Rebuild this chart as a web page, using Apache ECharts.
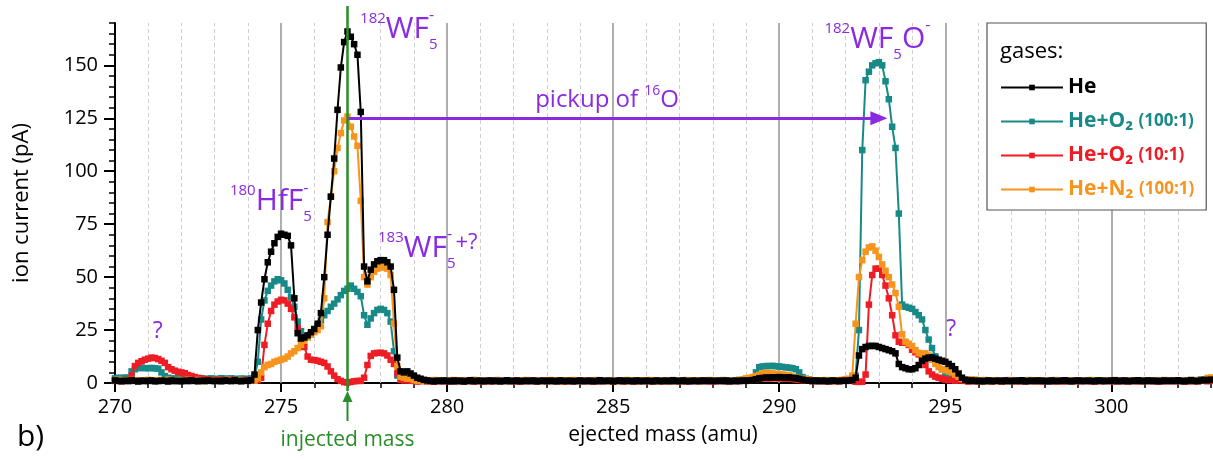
<!DOCTYPE html>
<html><head><meta charset="utf-8">
<script src="https://cdn.jsdelivr.net/npm/echarts@6/dist/echarts.min.js"></script>
<style>html,body{margin:0;padding:0;background:#fff}#c{width:1213px;height:461px}</style>
</head><body><div id="c"></div>
<script>
// ---------------- data ----------------
const MASS_START = 270, MASS_STEP = 0.1;   // ejected mass grid (amu)
const SERIES_NAMES = ['He', 'He+O₂ (100:1)', 'He+O₂ (10:1)', 'He+N₂ (100:1)'];
const X_TICKS = [270, 275, 280, 285, 290, 295, 300];
const Y_TICKS = [0, 25, 50, 75, 100, 125, 150];
const MAJOR_GRID = [275, 280, 285, 290, 295, 300];
const MINOR_GRID = [271,272,273,274,276,277,278,279,281,282,283,284,286,287,288,289,291,292,293,294,296,297,298,299,301,302];
const INJECTED_MASS = 277;
const PICKUP_FROM = 277, PICKUP_TO = 293, PICKUP_LEVEL = 125;

// ion current (pA), one row per amu (x.0 ... x.9)
const He = [
1.2,1.0,0.8,1.1,0.9,1.3,1.0,0.7,1.1,0.9,
1.0,1.2,0.8,0.9,1.1,1.0,0.7,1.2,0.9,1.0,
0.8,1.1,0.9,1.3,1.0,0.8,1.1,0.9,1.2,1.0,
0.9,1.1,0.8,1.2,1.0,0.9,1.3,1.0,0.8,1.1,
1.0,1.3,4.0,25,38,49,57,62,66,69,
70.5,70,69.5,65,40,23.5,21,21.5,22.5,24,
25.5,28,33,50,70,88,106,129,149,161,
166,163.5,160,155,128,55,48,53.5,56,57.5,
58,58,57,55,44,12,5.5,5,5.5,4.5,
3.5,2.5,2,1.5,1.2,1.0,0.8,1.1,0.9,1.2,
1.0,0.8,1.2,0.9,1.1,0.7,1.0,1.3,0.9,1.0,
1.1,0.8,1.0,1.2,0.9,1.1,0.8,1.0,1.3,0.9,
1.0,1.2,0.8,1.0,1.1,0.9,1.2,0.8,1.0,1.1,
0.9,1.1,1.0,0.8,1.2,1.0,0.9,1.1,0.8,1.0,
1.2,0.9,1.0,1.1,0.8,1.0,1.3,0.9,1.0,1.1,
0.8,1.0,1.2,0.9,1.1,1.0,0.8,1.2,1.0,0.9,
1.1,1.0,0.8,1.2,0.9,1.0,1.1,0.9,1.3,1.0,
0.9,1.2,1.0,0.8,1.1,1.0,0.9,1.2,1.0,1.1,
1.0,0.9,1.1,1.0,1.2,0.8,1.0,1.1,0.9,1.2,
1.0,1.2,1.4,1.8,2.2,2.4,2.6,2.5,2.7,2.6,
2.8,2.6,2.5,2.7,2.4,2.3,2.0,1.6,1.3,1.1,
1.0,1.2,0.9,1.1,1.0,0.8,1.2,1.0,0.9,1.1,
1.0,1.2,1.4,2.5,13,16,17,17.5,17.5,17.5,
17,16.5,16,15.5,15,14,9,7.5,7,6.5,
6.5,7,8.5,10.5,11.5,12,12,11.5,11,10.5,
10,9,8,6.5,4.5,2.5,1.5,1.0,1.2,0.9,
1.1,0.8,1.0,1.2,0.9,1.0,1.1,0.8,1.2,1.0,
0.9,1.1,1.0,1.3,0.8,1.0,1.1,0.9,1.2,1.0,
1.0,0.8,1.2,1.0,0.9,1.1,1.3,1.0,0.8,1.1,
1.2,1.0,0.9,1.1,1.0,0.8,1.2,1.1,0.9,1.0,
1.1,1.3,0.9,1.0,1.2,0.8,1.0,1.1,1.3,1.0,
0.9,1.2,1.0,1.1,0.8,1.0,1.2,0.9,1.1,1.0,
1.3,1.0,0.8,1.1,1.4,1.0,0.9,1.2,1.5,1.3,
1.6];

const HeO2_100 = [
2.2,2.5,2.3,2.6,2.4,5.5,6.5,7.0,7.2,7.0,
7.0,7.1,6.9,6.8,5.0,3.3,2.5,2.2,2.0,2.3,
2.1,1.9,2.2,2.0,1.8,2.1,2.3,1.9,2.0,2.2,
1.8,2.0,2.3,2.1,1.9,2.2,2.0,1.8,2.1,2.0,
1.9,2.2,2.8,10,30,39,43.5,46,48,49,
48.5,47,44,40.5,36,29,24.5,22,22,23,
25,27,29.5,32,34,36,37.5,39.5,41.5,43.5,
44.5,46,44.5,43,41,32,27.5,30.5,33,34.5,
35,34.5,33,29,15,3.5,2.2,2.0,2.3,1.9,
1.6,1.3,1.1,1.2,0.9,1.1,0.8,1.2,1.0,0.9,
1.1,0.8,1.2,0.9,1.0,1.3,0.9,1.1,0.8,1.0,
1.2,0.9,1.1,0.8,1.3,1.0,0.9,1.2,0.8,1.1,
0.9,1.2,1.0,0.8,1.1,1.3,0.9,1.0,1.2,0.8,
1.1,0.9,1.3,1.0,0.8,1.2,0.9,1.1,1.0,1.3,
0.8,1.1,0.9,1.2,1.0,0.8,1.3,0.9,1.1,1.0,
1.2,0.9,1.1,0.8,1.0,1.3,0.9,1.2,0.8,1.1,
1.0,1.2,0.8,1.1,0.9,1.3,1.0,0.8,1.2,0.9,
1.1,0.8,1.0,1.3,0.9,1.2,1.1,0.8,1.0,1.2,
0.9,1.1,1.3,0.8,1.0,1.2,0.9,1.1,1.4,1.3,
1.8,2.0,2.5,5.0,7.5,7.8,8.0,8.0,8.1,7.9,
7.8,7.6,7.4,7.2,7.0,6.5,5.0,2.8,2.0,1.7,
1.2,1.0,1.3,0.9,1.1,1.2,1.0,1.3,0.9,1.1,
1.5,1.3,1.6,3.5,25,110,143,147,150,151,
151.5,150,142.5,134,121,111,80,37,36,35.5,
35,33.5,32,30,25,20.5,16.5,12.6,9,6.5,
4.5,3.5,3,2.5,1.8,1.5,1.3,1.6,1.2,1.4,
1.0,1.2,0.8,1.1,0.9,1.3,1.0,0.8,1.2,0.9,
1.1,0.9,1.2,1.0,0.8,1.3,0.9,1.1,1.0,1.2,
0.9,1.1,0.8,1.2,1.0,0.9,1.3,1.1,0.8,1.0,
1.2,0.9,1.1,1.0,1.3,0.8,1.1,0.9,1.2,1.0,
0.9,1.2,1.0,0.8,1.1,1.3,0.9,1.0,1.2,0.8,
1.1,0.9,1.3,1.0,0.8,1.2,0.9,1.1,1.0,1.3,
0.9,1.1,0.8,1.2,1.0,0.9,1.3,1.7,1.1,1.0,
1.2];

const HeO2_10 = [
1.0,1.3,0.9,1.2,1.5,3.5,8.0,9.5,10.3,11.0,
11.5,12.0,11.8,11.3,10.5,9.5,7.5,6.5,5.8,5.3,
5.0,4.6,3.8,3.3,2.8,2.4,2.0,1.8,1.6,1.5,
1.4,1.7,1.3,1.5,1.2,1.6,1.4,1.1,1.3,1.5,
1.2,1.4,1.1,1.3,2.5,18,28,34,37,38.5,
39.3,39,37.5,35,31,26,21,17,12.5,11,
10.8,10.5,10,9.5,7.8,5.5,3.5,1.8,1.0,0.4,
0.2,0.5,0.8,1.0,1.0,2.5,8.5,12.8,14,14.2,
14.3,14,13,11,9,4.5,1.5,1.2,1.4,1.1,
1.0,0.7,0.9,1.1,0.8,1.0,0.6,0.9,1.2,0.8,
0.9,1.1,0.7,1.0,1.2,0.8,0.9,1.1,0.7,1.0,
0.8,1.0,1.2,0.7,0.9,1.1,0.8,1.0,1.3,0.9,
1.1,0.7,0.9,1.2,0.8,1.0,1.1,0.7,0.9,1.2,
0.9,1.1,0.8,1.0,1.3,0.7,0.9,1.1,0.8,1.0,
1.2,0.9,1.0,0.7,1.1,0.9,0.8,1.2,1.0,0.9,
0.7,1.0,1.2,0.9,0.8,1.1,1.0,0.7,1.3,0.9,
1.0,0.8,1.1,0.9,1.2,0.7,1.0,0.9,1.1,0.8,
0.9,1.2,0.7,1.0,1.1,0.8,0.9,1.3,1.0,0.7,
1.1,0.9,1.0,1.2,0.7,0.9,1.1,0.8,1.0,1.2,
1.3,1.2,1.5,1.8,2.0,2.2,2.3,2.1,2.4,2.2,
2.3,2.1,2.0,2.2,1.9,1.7,1.5,1.3,1.2,1.4,
0.8,1.0,0.9,1.2,0.7,1.1,0.9,1.0,0.8,1.3,
1.5,1.2,1.0,0.6,0.5,0.6,4,37,51,54,
54,51,46,40,32,22.5,19.5,19,19,18,
15.7,14.5,13.5,12,8.5,5.5,4,3,2.5,2,
1.6,1.3,1.5,1.1,1.4,1.2,1.0,0.7,1.2,0.9,
0.8,1.1,0.9,1.0,0.7,1.2,0.9,1.1,0.8,1.0,
1.2,0.9,0.7,1.1,1.0,0.8,1.3,0.9,1.0,0.7,
1.0,1.2,0.9,0.8,1.1,0.9,0.7,1.2,1.0,0.9,
0.8,1.1,1.0,1.2,0.7,0.9,1.1,0.8,1.0,1.3,
0.9,0.7,1.1,1.0,0.8,1.2,0.9,1.0,0.7,1.1,
1.0,1.2,0.8,0.9,1.1,0.7,1.0,1.2,0.9,0.8,
1.1,0.9,1.0,0.7,1.2,0.9,0.8,1.1,1.0,0.9,
1.0];

const HeN2_100 = [
1.2,1.5,1.1,1.3,1.0,1.4,1.2,0.9,1.3,1.1,
1.5,1.2,1.0,1.4,1.1,1.3,1.6,1.2,1.0,1.4,
1.1,1.3,1.5,1.0,1.2,1.4,1.1,0.9,1.3,1.2,
1.0,1.4,1.2,1.1,1.5,1.3,1.0,1.2,1.4,1.1,
1.0,1.2,1.1,2.2,5,7.5,8.5,9,10,10.5,
11,11.5,12.5,14,15,16.5,18,20,21.5,23,
24,25,26.8,40,76,88,100,111,118,124,
125.8,121,116.4,112,86,50,46.5,50,52.5,54,
55,54.5,54,51,28,8,3,2.5,2.0,2.2,
1.4,1.1,1.3,1.0,1.2,0.9,1.4,1.1,1.0,1.3,
1.1,0.9,1.4,1.2,1.0,1.3,0.9,1.1,1.5,1.0,
1.2,1.0,0.9,1.3,1.1,1.4,1.0,1.2,0.9,1.1,
1.3,1.0,1.2,0.9,1.4,1.1,1.0,1.3,1.2,0.9,
1.1,1.4,1.0,1.2,0.9,1.3,1.1,1.0,1.4,1.2,
1.0,1.2,1.3,0.9,1.1,1.4,1.0,1.2,1.1,0.9,
1.3,1.1,0.9,1.2,1.4,1.0,1.1,1.3,0.9,1.2,
1.1,1.4,1.0,0.9,1.3,1.1,1.2,1.0,1.4,1.1,
0.9,1.2,1.4,1.1,1.0,1.3,0.9,1.2,1.1,1.4,
1.2,1.0,1.1,1.4,0.9,1.2,1.3,1.0,1.5,1.7,
2.2,2.4,2.8,3.3,3.8,4.5,4.8,4.7,4.5,4.3,
4.2,4.0,3.8,3.6,3.0,2.5,2.2,2.0,1.8,1.6,
1.1,1.3,1.0,1.2,1.4,1.1,0.9,1.3,1.2,1.5,
1.8,2.0,3.5,28,50,58,62,64,64.5,62.5,
59.5,56,53,50,46.5,42.5,36,23,19.5,18.5,
17.5,15.5,14.2,13.5,14,13,11,9,7.5,6.5,
6,5.5,5,4,3,2,1.6,1.4,1.7,1.5,
0.9,1.2,1.4,1.0,1.1,1.3,0.9,1.2,1.0,1.4,
1.1,0.9,1.3,1.2,1.0,1.4,1.1,0.9,1.2,1.3,
1.0,1.2,1.1,1.4,0.9,1.3,1.0,1.2,1.1,0.9,
1.3,1.1,1.0,1.2,1.4,0.9,1.1,1.3,1.0,1.2,
1.1,1.4,1.0,0.9,1.2,1.1,1.3,1.0,1.2,0.9,
1.2,1.0,1.3,1.1,0.9,1.2,1.4,1.0,1.1,1.3,
1.0,1.2,0.9,1.3,1.1,1.0,1.4,1.2,1.6,2.4,
2.6];

// annotation texts: anchor [mass, pA] = left edge / vertical middle of the main glyphs
// parts: t text, s font size, dy vertical offset (px), sx = stack on previous x
const LABELS = [
  { at: [277.38, 167], parts: [{t:'182',s:15,dy:-11},{t:'WF',s:30,dy:0},{t:'5',s:15,dy:15},{t:'-',s:16,dy:-14,sx:1}] },
  { at: [273.46, 85.5], parts: [{t:'180',s:15,dy:-11},{t:'HfF',s:30,dy:0},{t:'5',s:15,dy:15},{t:'-',s:16,dy:-14,sx:1}] },
  { at: [277.92, 63.4], parts: [{t:'183',s:15,dy:-11},{t:'WF',s:30,dy:0},{t:'5',s:15,dy:15},{t:'-',s:16,dy:-14,sx:1},{t:'+?',s:22,dy:-6}] },
  { at: [291.36, 162.3], parts: [{t:'182',s:15,dy:-11},{t:'WF',s:30,dy:0},{t:'5',s:15,dy:15},{t:'O',s:30,dy:0},{t:'-',s:16,dy:-14}] },
  { at: [282.65, 133.4], parts: [{t:'pickup of ',s:24,dy:0},{t:'16',s:14,dy:-9},{t:'O',s:24,dy:0}] },
  { at: [271.14, 24.4], parts: [{t:'?',s:23,dy:0}] },
  { at: [295.03, 25.2], parts: [{t:'?',s:23,dy:0}] }
];

// ---------------- chart ----------------
const FONT = '"Open Sans", "DejaVu Sans", sans-serif';
const BLACK = '#000000', TEAL = '#178a88', RED = '#ee1c24', ORANGE = '#f7941d',
      PURPLE = '#8a2be2', GREEN = '#2a8c2a';
const masses = He.map((_, i) => +(MASS_START + i * MASS_STEP).toFixed(1));
const pairs = arr => arr.map((v, i) => [masses[i], v]);

const defs = [
  { name: SERIES_NAMES[1], data: HeO2_100, color: TEAL },
  { name: SERIES_NAMES[2], data: HeO2_10, color: RED },
  { name: SERIES_NAMES[3], data: HeN2_100, color: ORANGE },
  { name: SERIES_NAMES[0], data: He, color: BLACK }
];
const legendColors = [BLACK, TEAL, RED, ORANGE];

const chart = echarts.init(document.getElementById('c'), null, { renderer: 'canvas' });

const series = defs.map((d, k) => ({
  type: 'line', name: d.name, data: pairs(d.data),
  xAxisIndex: 0, yAxisIndex: 0,
  symbol: 'rect', symbolSize: 6.5, showAllSymbol: true,
  lineStyle: { color: d.color, width: 2 },
  itemStyle: { color: d.color },
  z: 3 + k, animation: false
}));

// grid lines (behind data)
series.unshift({
  type: 'line', name: 'grid', data: [], xAxisIndex: 0, yAxisIndex: 0, silent: true, z: 1,
  markLine: {
    silent: true, symbol: 'none', z: 1, animation: false, label: { show: false },
    data: MINOR_GRID.map(v => ({ xAxis: v, lineStyle: { color: '#cfcfcf', width: 1, type: [4, 3] } }))
      .concat(MAJOR_GRID.map(v => ({ xAxis: v, lineStyle: { color: '#9a9a9a', width: 1.6, type: 'solid' } })))
  }
});
// pickup arrow (above data)
series.push({
  type: 'line', name: 'pickup', data: [], xAxisIndex: 0, yAxisIndex: 0, silent: true, z: 20,
  markLine: {
    silent: true, z: 20, animation: false, symbol: ['none', 'triangle'], symbolSize: [14, 17],
    label: { show: false },
    lineStyle: { color: PURPLE, width: 3, type: 'solid' },
    data: [[{ coord: [PICKUP_FROM, PICKUP_LEVEL] }, { coord: [PICKUP_TO, PICKUP_LEVEL] }]]
  }
});

const legendRich = { b: { fontSize: 21, fontWeight: 'bold', fontFamily: FONT, lineHeight: 24 }, s: { fontSize: 17, fontWeight: 'bold', fontFamily: FONT, lineHeight: 24 } };

chart.setOption({
  animation: false,
  backgroundColor: '#fff',
  grid: { left: 115, right: 2, top: 23, bottom: 78, containLabel: false },
  xAxis: [{
    type: 'value', min: 270, max: 303, interval: 1,
    axisLine: { show: true, onZero: false, lineStyle: { color: '#000', width: 2 } },
    axisTick: { show: true, length: 5, lineStyle: { color: '#000', width: 1.5 } },
    axisLabel: { show: false }, splitLine: { show: false },
    name: 'ejected mass (amu)', nameLocation: 'middle', nameGap: 42,
    nameTextStyle: { fontFamily: FONT, fontSize: 21, color: '#000' }
  }, {
    type: 'value', min: 270, max: 303, interval: 5, position: 'bottom',
    axisLine: { show: false },
    axisTick: { show: true, length: 9, customValues: X_TICKS, lineStyle: { color: '#000', width: 2 } },
    axisLabel: { show: true, customValues: X_TICKS, margin: 14, fontFamily: FONT, fontSize: 20, color: '#000' },
    splitLine: { show: false }
  }],
  yAxis: [{
    type: 'value', min: 0, max: 170, interval: 5,
    axisLine: { show: true, lineStyle: { color: '#000', width: 2 } },
    axisTick: { show: true, length: 6, lineStyle: { color: '#000', width: 1.5 } },
    axisLabel: { show: false }, splitLine: { show: false },
    name: 'ion current (pA)', nameLocation: 'middle', nameGap: 82, nameRotate: 90,
    nameTextStyle: { fontFamily: FONT, fontSize: 22, color: '#000' }
  }, {
    type: 'value', min: 0, max: 170, interval: 25, position: 'left',
    axisLine: { show: false },
    axisTick: { show: true, length: 11, customValues: Y_TICKS, lineStyle: { color: '#000', width: 2 } },
    axisLabel: { show: true, customValues: Y_TICKS, margin: 17, fontFamily: FONT, fontSize: 20, color: '#000' },
    splitLine: { show: false }
  }],
  legend: {
    orient: 'vertical', left: 987, top: 23, z: 10,
    padding: [54, 12, 10, 13],
    backgroundColor: '#fff', borderColor: '#555', borderWidth: 1.2,
    itemWidth: 62, itemHeight: 7, itemGap: 13,
    data: SERIES_NAMES.map((n, i) => ({ name: n, textStyle: { color: legendColors[i] } })),
    textStyle: { fontFamily: FONT, fontSize: 21, fontWeight: 'bold', rich: legendRich },
    formatter: name => {
      const i = name.indexOf(' ');
      return i < 0 ? '{b|' + name + '}' : '{b|' + name.slice(0, i) + '} {s|' + name.slice(i + 1) + '}';
    },
    selectedMode: false
  },
  series: series
});

// ---------- annotations placed through the chart's own scales ----------
const ctx = document.createElement('canvas').getContext('2d');
function textWidth(t, s) { ctx.font = s + 'px ' + FONT; return ctx.measureText(t).width; }
function toPx(p) { return chart.convertToPixel({ gridIndex: 0 }, p); }

const graphics = [];
LABELS.forEach(L => {
  const [ax, ay] = toPx(L.at);
  let cursor = ax, prevX = ax;
  L.parts.forEach(p => {
    const x = p.sx ? prevX : cursor;
    graphics.push({ type: 'text', x: x, y: ay + p.dy, z: 100, silent: true,
      style: { text: p.t, fontSize: p.s, fontFamily: FONT, fill: PURPLE,
               textAlign: 'left', textVerticalAlign: 'middle', align: 'left', verticalAlign: 'middle' } });
    prevX = x;
    cursor = Math.max(cursor, x + textWidth(p.t, p.s));
  });
});

// injected mass: green vertical line + arrow + caption
const gx = Math.round(toPx([INJECTED_MASS, 0])[0]) + 0.5;
const gy0 = toPx([INJECTED_MASS, 0])[1];
graphics.push({ type: 'line', z: 100, silent: true, shape: { x1: gx, y1: 6, x2: gx, y2: gy0 + 8 }, style: { stroke: GREEN, lineWidth: 2.5 } });
graphics.push({ type: 'line', z: 100, silent: true, shape: { x1: gx, y1: gy0 + 17, x2: gx, y2: gy0 + 38 }, style: { stroke: GREEN, lineWidth: 2 } });
graphics.push({ type: 'polygon', z: 100, silent: true, shape: { points: [[gx, gy0 + 8], [gx - 5, gy0 + 19], [gx + 5, gy0 + 19]] }, style: { fill: GREEN } });
graphics.push({ type: 'text', z: 100, silent: true, x: gx, y: gy0 + 57,
  style: { text: 'injected mass', fontSize: 21, fontFamily: FONT, fill: GREEN, textAlign: 'center', textVerticalAlign: 'middle', align: 'center', verticalAlign: 'middle' } });

// panel letter
graphics.push({ type: 'text', z: 100, silent: true, x: 17, y: 437,
  style: { text: 'b)', fontSize: 30, fontFamily: FONT, fill: '#000', textAlign: 'left', textVerticalAlign: 'middle', align: 'left', verticalAlign: 'middle' } });

// legend title
graphics.push({ type: 'text', z: 100, silent: true, x: 1000, y: 52,
  style: { text: 'gases:', fontSize: 22, fontFamily: FONT, fill: '#000', textAlign: 'left', textVerticalAlign: 'middle', align: 'left', verticalAlign: 'middle' } });

chart.setOption({ graphic: { elements: graphics } });
</script>
</body></html>
